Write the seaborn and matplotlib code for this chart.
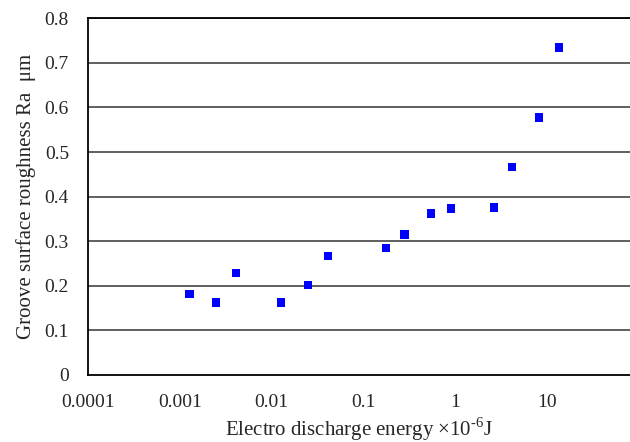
import matplotlib
matplotlib.use("Agg")
import matplotlib.pyplot as plt
import seaborn as sns
import pandas as pd
from matplotlib.ticker import LogLocator, FixedLocator, FixedFormatter

energy = [0.00126, 0.00247, 0.00407, 0.0126, 0.0248, 0.041, 0.176, 0.281,
          0.543, 0.897, 2.66, 4.15, 8.17, 13.5]
roughness = [0.182, 0.162, 0.229, 0.162, 0.202, 0.267, 0.285, 0.315,
             0.362, 0.373, 0.376, 0.466, 0.578, 0.735]
x_ticks = [0.0001, 0.001, 0.01, 0.1, 1, 10]
x_tick_labels = ["0.0001", "0.001", "0.01", "0.1", "1", "10"]
y_ticks = [0, 0.1, 0.2, 0.3, 0.4, 0.5, 0.6, 0.7, 0.8]
y_tick_labels = ["0", "0.1", "0.2", "0.3", "0.4", "0.5", "0.6", "0.7", "0.8"]

df = pd.DataFrame({"energy": energy, "roughness": roughness})

sns.set_style("white")
plt.rcParams["font.family"] = ["Liberation Serif", "DejaVu Serif"]
plt.rcParams["mathtext.fontset"] = "custom"
plt.rcParams["mathtext.rm"] = "Liberation Serif"

fig = plt.figure(figsize=(6.3, 4.42), dpi=100)
ax = fig.add_axes([0.1402, 0.1516, 0.8598, 0.807])

sns.scatterplot(data=df, x="energy", y="roughness", marker="s", s=38,
                color="#0000FF", edgecolor="none", linewidth=0, ax=ax, zorder=3)

ax.set_xscale("log")
ax.set_xlim(1e-4, 80.7)
ax.set_ylim(0, 0.8)

ax.xaxis.set_major_locator(FixedLocator(x_ticks))
ax.xaxis.set_major_formatter(FixedFormatter(x_tick_labels))
ax.xaxis.set_minor_locator(LogLocator(base=10, subs=range(2, 10), numticks=20))
ax.yaxis.set_major_locator(FixedLocator(y_ticks))
ax.yaxis.set_major_formatter(FixedFormatter(y_tick_labels))

for y in y_ticks[1:]:
    ax.axhline(y, color="#444444", linewidth=1.2, zorder=1)

ax.tick_params(axis="x", which="major", direction="in", length=5, width=1,
               color="black", labelsize=14, pad=14)
ax.tick_params(axis="x", which="minor", direction="in", length=3, width=0.8,
               color="#555555")
ax.tick_params(axis="y", which="major", direction="in", length=4, width=1,
               color="black", labelsize=14, pad=14)

for side in ["left", "bottom", "top"]:
    ax.spines[side].set_visible(True)
    ax.spines[side].set_color("black")
    ax.spines[side].set_linewidth(1.3)
ax.spines["right"].set_visible(False)

ax.set_xlabel("Electro discharge energy \u00d710$^{\u2010 6}$J", fontsize=15, labelpad=3)
ax.set_ylabel("Groove surface roughness Ra  \u03bcm", fontsize=15, labelpad=6)

fig.savefig("out.png", dpi=100)
